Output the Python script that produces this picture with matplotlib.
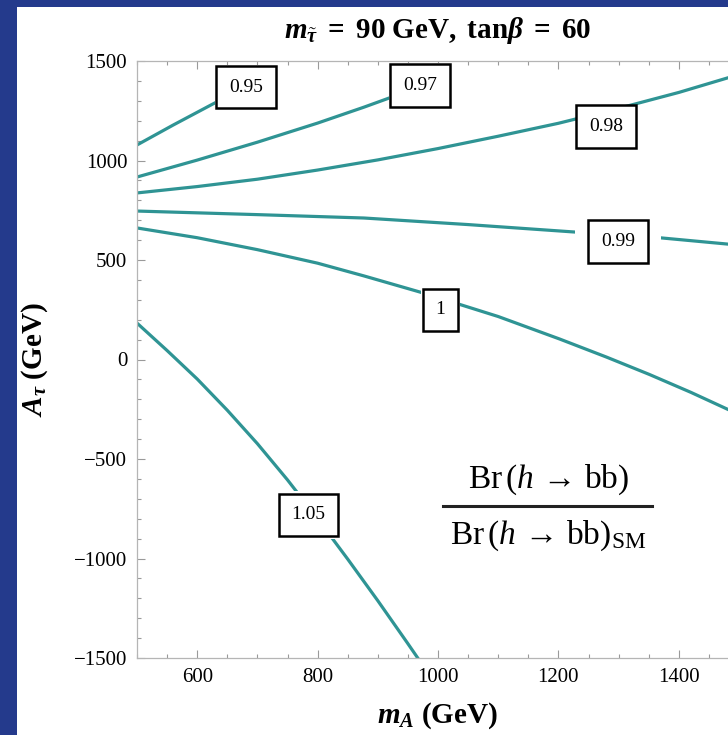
import matplotlib.pyplot as plt
from matplotlib.patches import Rectangle
from matplotlib.ticker import MultipleLocator

plt.rcParams['font.family'] = ['Liberation Serif', 'DejaVu Serif']
plt.rcParams['mathtext.fontset'] = 'custom'
plt.rcParams['mathtext.rm'] = 'Liberation Serif'
plt.rcParams['mathtext.it'] = 'Liberation Serif:italic'
plt.rcParams['mathtext.bf'] = 'Liberation Serif:bold'
plt.rcParams['mathtext.bfit'] = 'Liberation Serif:italic:bold'

# contour lines of Br(h->bb)/Br(h->bb)_SM (m_A, A_tau in GeV)
# 0.95 and 0.97 leave the frame under their labels, so they stop there
ma_095 = [500, 560, 626, 681, 695]
at_095 = [1078, 1178, 1284, 1369, 1440]

ma_097 = [500, 600, 700, 800, 877, 918, 970, 990]
at_097 = [917, 1002, 1092, 1188, 1268, 1313, 1370, 1430]

ma_098 = [500, 600, 700, 800, 900, 1000, 1100, 1200, 1300, 1400, 1481, 1500]
at_098 = [837, 869, 906, 952, 1003, 1060, 1122, 1187, 1262, 1342, 1415, 1431]

ma_099 = [500, 700, 877, 1050, 1225, 1371, 1481, 1500]
at_099 = [746, 728, 711, 678, 641, 611, 580, 575]

ma_100 = [500, 600, 700, 800, 877, 970, 1039, 1100, 1202, 1280, 1351, 1420, 1481, 1500]
at_100 = [661, 612, 552, 484, 420, 339, 274, 216, 103, 12, -75, -165, -250, -276]

ma_105 = [500, 550, 600, 650, 700, 750, 800, 850, 900, 950, 980]
at_105 = [183, 45, -98, -255, -423, -605, -800, -1003, -1212, -1428, -1560]

# contour labels
label_text = ['0.95', '0.97', '0.98', '0.99', '1', '1.05']
label_ma = [681, 970, 1279, 1299, 1004, 785]
label_at = [1369, 1377, 1171, 593, 249, -781]
label_gap = [0.7, 0.7, 0.66, 1.35, 0.75, 0.8]   # white margin kept round each box

x_ticks = [600, 800, 1000, 1200, 1400]
y_ticks = [-1500, -1000, -500, 0, 500, 1000, 1500]

line_color = '#2f9494'
frame_blue = '#243a8c'

fig = plt.figure(figsize=(7.28, 7.35), dpi=100)
fig.patch.set_facecolor(frame_blue)
fig.add_artist(Rectangle((17 / 728, 0), 1, 728 / 735, transform=fig.transFigure,
                         facecolor='white', edgecolor='none', zorder=0))

# axes runs past the right edge, the reference is cropped there
ax = fig.add_axes([137 / 728, 77 / 735, 602 / 728, 597 / 735])

for xs, ys in [(ma_095, at_095), (ma_097, at_097), (ma_098, at_098),
               (ma_099, at_099), (ma_100, at_100), (ma_105, at_105)]:
    ax.plot(xs, ys, color=line_color, lw=2.3, solid_capstyle='butt')

for s, x, y, g in zip(label_text, label_ma, label_at, label_gap):
    ax.text(x, y, s, fontsize=14, ha='center', va='center', color='none',
            bbox=dict(boxstyle=f'square,pad={g}', fc='white', ec='none'))
    ax.text(x, y, s, fontsize=14, ha='center', va='center', color='black',
            bbox=dict(boxstyle='square,pad=0.65', fc='white', ec='black', lw=1.8))

ax.set_xlim(500, 1500)
ax.set_ylim(-1500, 1500)
ax.set_xticks(x_ticks)
ax.set_yticks(y_ticks)
ax.xaxis.set_minor_locator(MultipleLocator(50))
ax.yaxis.set_minor_locator(MultipleLocator(100))
ax.tick_params(which='both', direction='in', top=True, right=True, color='#9a9a9a', width=0.8)
ax.tick_params(which='major', length=6, labelsize=15, pad=7)
ax.tick_params(which='minor', length=3)
for sp in ax.spines.values():
    sp.set_color('#b5b5b5')
    sp.set_linewidth(0.9)

fig.text(438 / 728, 1 - 31 / 735,
         r'$\mathbfit{m}_{\tilde{\mathbfit{\tau}}}\mathbf{\ =\ 90\ GeV,\ tan}\mathbfit{\beta}\mathbf{\ =\ 60}$',
         fontsize=21, ha='center', va='center')
fig.text(438 / 728, 1 - 716 / 735, r'$\mathbfit{m}_{\mathbfit{A}}\ \mathbf{(GeV)}$',
         fontsize=21, ha='center', va='center')
fig.text(35 / 728, 1 - 360 / 735, r'$\mathbfit{A}_{\mathbfit{\tau}}\ \mathbf{(GeV)}$',
         fontsize=21, ha='center', va='center', rotation=90)

# ratio annotation
ax.text(0.683, 0.298, r'$\mathrm{Br}\,(h\,\rightarrow\,\mathrm{bb})$',
        transform=ax.transAxes, fontsize=24, ha='center', va='center')
ax.plot([0.508, 0.855], [0.2546, 0.2546], transform=ax.transAxes, color='#222222', lw=2.2)
ax.text(0.683, 0.205, r'$\mathrm{Br}\,(h\,\rightarrow\,\mathrm{bb})_{\mathrm{SM}}$',
        transform=ax.transAxes, fontsize=24, ha='center', va='center')

fig.savefig('out.png', dpi=100, facecolor=fig.get_facecolor())
